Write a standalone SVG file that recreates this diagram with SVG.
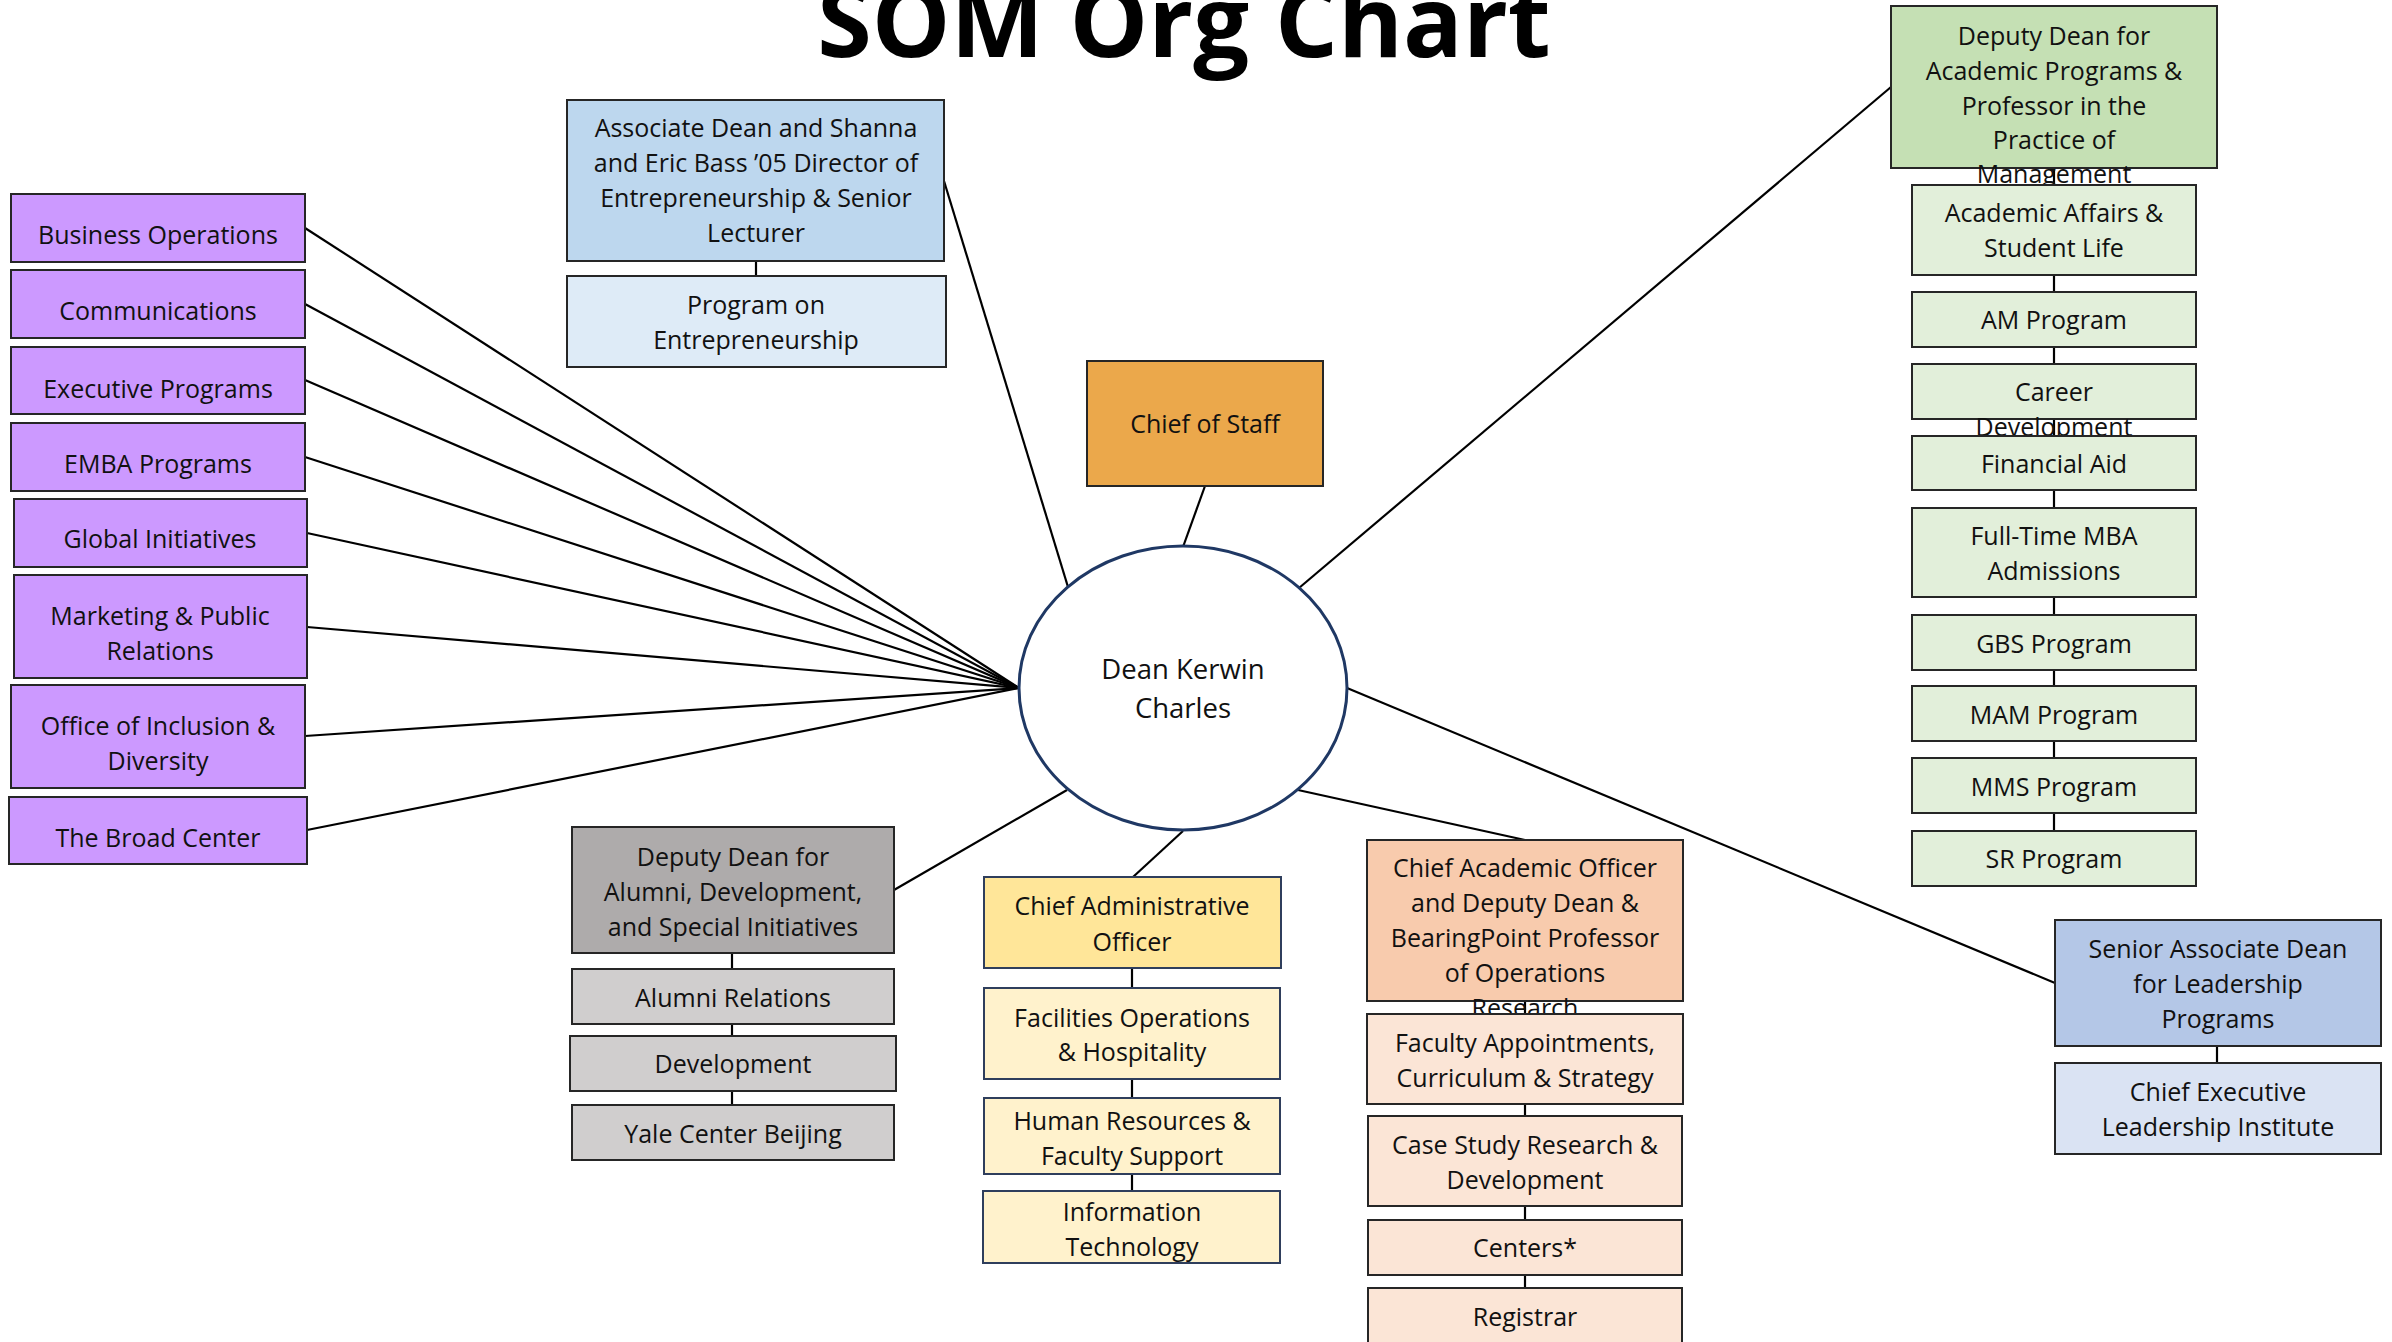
<svg xmlns="http://www.w3.org/2000/svg" width="2392" height="1342" viewBox="0 0 2392 1342">
<style>
text{font-family:"Open Sans","Noto Sans","Liberation Sans",sans-serif;font-size:25px;fill:#111;text-anchor:middle}
.title{font-size:99px;font-weight:bold;fill:#000}
.big{font-size:27.5px}
rect{stroke:#262626;stroke-width:2}
.pu{fill:#CC99FF}
.ab{fill:#BDD7EE}.lb{fill:#DEEBF7}
.or{fill:#EBA84B}
.gr{fill:#C5E0B4}.lg{fill:#E2EFDA}
.sb{fill:#B4C7E7}.sl{fill:#DAE3F3}
.pe{fill:#F8CBAD}.pl{fill:#FBE5D6}
.gy{fill:#AEABAB}.gl{fill:#D0CECE}
.ye{fill:#FFE699;stroke:#2F3E5C}.yl{fill:#FFF2CC;stroke:#2F3E5C}
#connectors line{stroke:#000;stroke-width:2.2}
</style>
<text class="title" x="1184" y="57">SOM Org Chart</text>
<g id="connectors">
<line x1="305" y1="228" x2="1019" y2="688"/>
<line x1="305" y1="304" x2="1019" y2="688"/>
<line x1="305" y1="380" x2="1019" y2="688"/>
<line x1="305" y1="457" x2="1019" y2="688"/>
<line x1="307" y1="533" x2="1019" y2="688"/>
<line x1="307" y1="627" x2="1019" y2="688"/>
<line x1="305" y1="736" x2="1019" y2="688"/>
<line x1="307" y1="830" x2="1019" y2="688"/>
<line x1="944" y1="181" x2="1068" y2="587"/>
<line x1="756" y1="261" x2="756" y2="276"/>
<line x1="1205" y1="486" x2="1183" y2="547"/>
<line x1="1891" y1="87" x2="1299" y2="588"/>
<line x1="1347" y1="688" x2="2055" y2="983"/>
<line x1="1298" y1="790" x2="1525" y2="840"/>
<line x1="894" y1="890" x2="1067" y2="790"/>
<line x1="1183" y1="831" x2="1133" y2="877"/>
<line x1="2054" y1="168" x2="2054" y2="185"/>
<line x1="2054" y1="275" x2="2054" y2="292"/>
<line x1="2054" y1="347" x2="2054" y2="364"/>
<line x1="2054" y1="419" x2="2054" y2="436"/>
<line x1="2054" y1="490" x2="2054" y2="508"/>
<line x1="2054" y1="597" x2="2054" y2="615"/>
<line x1="2054" y1="670" x2="2054" y2="686"/>
<line x1="2054" y1="741" x2="2054" y2="758"/>
<line x1="2054" y1="813" x2="2054" y2="831"/>
<line x1="2217" y1="1046" x2="2217" y2="1063"/>
<line x1="1525" y1="1001" x2="1525" y2="1014"/>
<line x1="1525" y1="1104" x2="1525" y2="1116"/>
<line x1="1525" y1="1206" x2="1525" y2="1220"/>
<line x1="1525" y1="1275" x2="1525" y2="1288"/>
<line x1="732" y1="953" x2="732" y2="969"/>
<line x1="732" y1="1024" x2="732" y2="1036"/>
<line x1="732" y1="1091" x2="732" y2="1105"/>
<line x1="1132" y1="968" x2="1132" y2="988"/>
<line x1="1132" y1="1079" x2="1132" y2="1098"/>
<line x1="1132" y1="1174" x2="1132" y2="1191"/>
</g>
<g id="business-operations"><rect class="pu" x="11" y="194" width="294" height="68"/><text x="158" y="244">Business Operations</text></g>
<g id="communications"><rect class="pu" x="11" y="270" width="294" height="68"/><text x="158" y="320">Communications</text></g>
<g id="executive-programs"><rect class="pu" x="11" y="347" width="294" height="67"/><text x="158" y="398">Executive Programs</text></g>
<g id="emba-programs"><rect class="pu" x="11" y="423" width="294" height="68"/><text x="158" y="473">EMBA Programs</text></g>
<g id="global-initiatives"><rect class="pu" x="14" y="499" width="293" height="68"/><text x="160" y="548">Global Initiatives</text></g>
<g id="marketing"><rect class="pu" x="14" y="575" width="293" height="103"/><text x="160" y="625">Marketing &amp; Public</text><text x="160" y="660">Relations</text></g>
<g id="inclusion"><rect class="pu" x="11" y="685" width="294" height="103"/><text x="158" y="735">Office of Inclusion &amp;</text><text x="158" y="770">Diversity</text></g>
<g id="broad-center"><rect class="pu" x="9" y="797" width="298" height="67"/><text x="158" y="847">The Broad Center</text></g>
<g id="associate-dean"><rect class="ab" x="567" y="100" width="377" height="161"/><text x="756" y="137">Associate Dean and Shanna</text><text x="756" y="172">and Eric Bass ’05 Director of</text><text x="756" y="207">Entrepreneurship &amp; Senior</text><text x="756" y="242">Lecturer</text></g>
<g id="program-entrepreneurship"><rect class="lb" x="567" y="276" width="379" height="91"/><text x="756" y="314">Program on</text><text x="756" y="349">Entrepreneurship</text></g>
<g id="chief-of-staff"><rect class="or" x="1087" y="361" width="236" height="125"/><text x="1205" y="433">Chief of Staff</text></g>
<g id="dean"><ellipse cx="1183" cy="688" rx="164" ry="142" fill="#fff" stroke="#1F3864" stroke-width="3"/><text class="big" x="1183" y="679">Dean Kerwin</text><text class="big" x="1183" y="718">Charles</text></g>
<g id="deputy-dean-academic"><rect class="gr" x="1891" y="6" width="326" height="162"/><text x="2054" y="45">Deputy Dean for</text><text x="2054" y="80">Academic Programs &amp;</text><text x="2054" y="115">Professor in the</text><text x="2054" y="149">Practice of</text><text x="2054" y="183">Management</text></g>
<g id="academic-affairs"><rect class="lg" x="1912" y="185" width="284" height="90"/><text x="2054" y="222">Academic Affairs &amp;</text><text x="2054" y="257">Student Life</text></g>
<g id="am-program"><rect class="lg" x="1912" y="292" width="284" height="55"/><text x="2054" y="329">AM Program</text></g>
<g id="career-development"><rect class="lg" x="1912" y="364" width="284" height="55"/><text x="2054" y="401">Career</text><text x="2054" y="436">Development</text></g>
<g id="financial-aid"><rect class="lg" x="1912" y="436" width="284" height="54"/><text x="2054" y="473">Financial Aid</text></g>
<g id="ftmba-admissions"><rect class="lg" x="1912" y="508" width="284" height="89"/><text x="2054" y="545">Full-Time MBA</text><text x="2054" y="580">Admissions</text></g>
<g id="gbs-program"><rect class="lg" x="1912" y="615" width="284" height="55"/><text x="2054" y="653">GBS Program</text></g>
<g id="mam-program"><rect class="lg" x="1912" y="686" width="284" height="55"/><text x="2054" y="724">MAM Program</text></g>
<g id="mms-program"><rect class="lg" x="1912" y="758" width="284" height="55"/><text x="2054" y="796">MMS Program</text></g>
<g id="sr-program"><rect class="lg" x="1912" y="831" width="284" height="55"/><text x="2054" y="868">SR Program</text></g>
<g id="senior-associate-dean"><rect class="sb" x="2055" y="920" width="326" height="126"/><text x="2218" y="958">Senior Associate Dean</text><text x="2218" y="993">for Leadership</text><text x="2218" y="1028">Programs</text></g>
<g id="celi"><rect class="sl" x="2055" y="1063" width="326" height="91"/><text x="2218" y="1101">Chief Executive</text><text x="2218" y="1136">Leadership Institute</text></g>
<g id="chief-academic-officer"><rect class="pe" x="1367" y="840" width="316" height="161"/><text x="1525" y="877">Chief Academic Officer</text><text x="1525" y="912">and Deputy Dean &amp;</text><text x="1525" y="947">BearingPoint Professor</text><text x="1525" y="982">of Operations</text><text x="1525" y="1017">Research</text></g>
<g id="faculty-appointments"><rect class="pl" x="1367" y="1014" width="316" height="90"/><text x="1525" y="1052">Faculty Appointments,</text><text x="1525" y="1087">Curriculum &amp; Strategy</text></g>
<g id="case-study"><rect class="pl" x="1368" y="1116" width="314" height="90"/><text x="1525" y="1154">Case Study Research &amp;</text><text x="1525" y="1189">Development</text></g>
<g id="centers"><rect class="pl" x="1368" y="1220" width="314" height="55"/><text x="1525" y="1257">Centers*</text></g>
<g id="registrar"><rect class="pl" x="1368" y="1288" width="314" height="60"/><text x="1525" y="1326">Registrar</text></g>
<g id="deputy-dean-alumni"><rect class="gy" x="572" y="827" width="322" height="126"/><text x="733" y="866">Deputy Dean for</text><text x="733" y="901">Alumni, Development,</text><text x="733" y="936">and Special Initiatives</text></g>
<g id="alumni-relations"><rect class="gl" x="572" y="969" width="322" height="55"/><text x="733" y="1007">Alumni Relations</text></g>
<g id="development"><rect class="gl" x="570" y="1036" width="326" height="55"/><text x="733" y="1073">Development</text></g>
<g id="yale-center-beijing"><rect class="gl" x="572" y="1105" width="322" height="55"/><text x="733" y="1143">Yale Center Beijing</text></g>
<g id="chief-administrative-officer"><rect class="ye" x="984" y="877" width="297" height="91"/><text x="1132" y="915">Chief Administrative</text><text x="1132" y="951">Officer</text></g>
<g id="facilities"><rect class="yl" x="984" y="988" width="296" height="91"/><text x="1132" y="1027">Facilities Operations</text><text x="1132" y="1061">&amp; Hospitality</text></g>
<g id="human-resources"><rect class="yl" x="984" y="1098" width="296" height="76"/><text x="1132" y="1130">Human Resources &amp;</text><text x="1132" y="1165">Faculty Support</text></g>
<g id="information-technology"><rect class="yl" x="983" y="1191" width="297" height="72"/><text x="1132" y="1221">Information</text><text x="1132" y="1256">Technology</text></g>
</svg>
